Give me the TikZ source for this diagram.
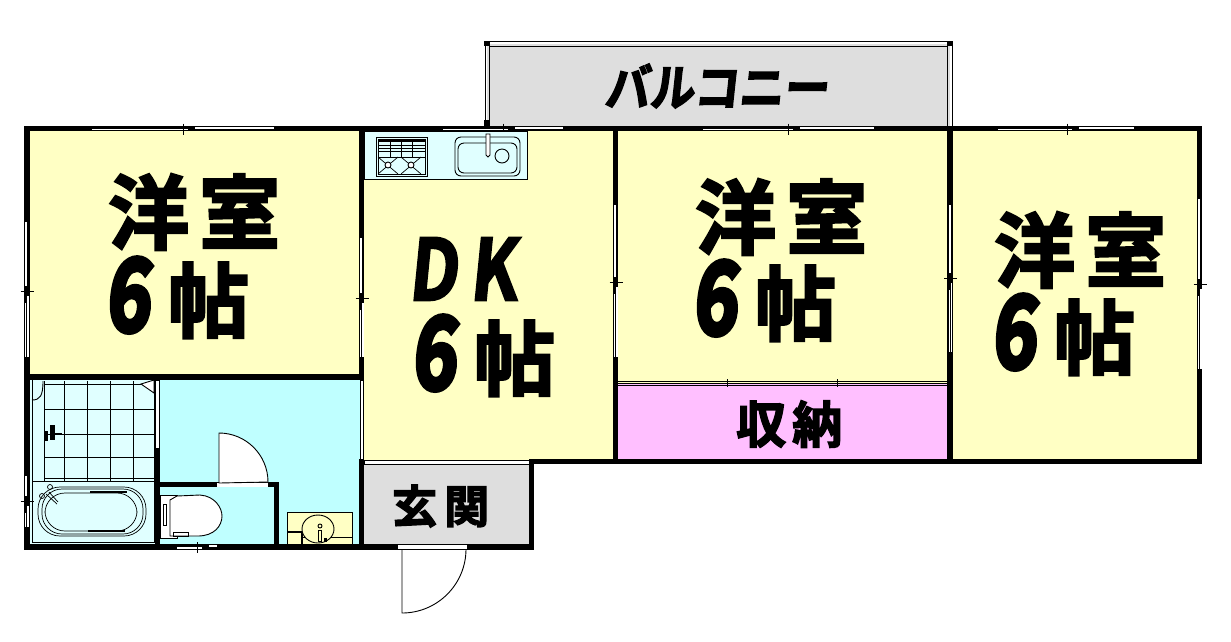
\documentclass[tikz,border=0pt]{standalone}
\usepackage{fontspec}
\newfontfamily\cjk[FakeBold=3]{Noto Sans CJK JP Bold}
\newfontfamily\cjkslant[FakeBold=3,FakeSlant=.12]{Noto Sans CJK JP Bold}
\newfontfamily\cjksix[FakeBold=5,FakeSlant=.12]{Noto Sans CJK JP Bold}
\newcommand{\bigsize}{\fontsize{81}{81}\selectfont}
\newcommand{\sixmark}{\scalebox{.76}[1]{\fontsize{100}{100}\cjksix 6}}
\definecolor{roomyellow}{HTML}{FFFFC4}
\definecolor{hallblue}{HTML}{BFFFFF}
\definecolor{wetblue}{HTML}{E0FFFF}
\definecolor{closetpink}{HTML}{FFBFFF}
\definecolor{floorgray}{HTML}{DEDEDE}
\tikzset{
	thinline/.style={draw=black,line width=0.9pt},
	opening/.style={fill=white,draw=black,line width=0.9pt},
	roomtext/.style={inner sep=0pt,anchor=west,text=black},
	fixture/.style={fill=white,draw=black,line width=0.9pt},
}
\begin{document}
\begin{tikzpicture}[x=1pt,y=-1pt]
	\useasboundingbox (0,0) rectangle (1231,641);
	% floors
	\fill[floorgray] (487,44) rectangle (950,127);
	\fill[roomyellow] (27,129) rectangle (362,377);
	\fill[roomyellow] (362,129) rectangle (616,461);
	\fill[roomyellow] (616,129) rectangle (950,383);
	\fill[roomyellow] (950,129) rectangle (1200,461);
	\fill[closetpink] (616,383) rectangle (950,461);
	\fill[floorgray] (362,461) rectangle (531,547);
	\fill[hallblue] (157,377) rectangle (362,547);
	\fill[wetblue] (27,377) rectangle (157,547);
	% balcony rails
	\draw[thinline] (485,120) -- (485,41) -- (952,41) -- (952,126);
	\draw[thinline] (489,126) -- (489,46) -- (947,46) -- (947,126);
	\fill (484,41) rectangle (490,46);
	\fill (947,41) rectangle (953,46);
	\fill (484,120) rectangle (489,127);
	% walls
	\foreach \xa/\ya/\xb/\yb in {24/126/1202/131, 24/126/30/550, 24/544/534/550, 24/374/364/380,
		359/126/364/380, 359/459/364/550, 613/126/618/464, 947/126/953/464, 1197/126/1202/464,
		529/459/1202/464, 529/459/534/550, 155/448/160/544, 160/482/279/487, 274/482/279/544}
		\fill (\xa,\ya) rectangle (\xb,\yb);
	% plain openings
	\draw[opening] (360,380) rectangle (363.5,459);
	\draw[opening] (364,460) rectangle (529,464);
	\draw[opening] (155.5,380) rectangle (159.5,448);
	\fill[white] (398,545) rectangle (467,549);
	\fill[white] (217,483) rectangle (268,487);
	% sliding windows on horizontal walls
	\foreach \xa/\xm/\xb/\yw in {92/183/274/128.5, 443/503/563/128.5, 703/788/874/128.5, 998/1067/1134/128.5, 177/197/217/547}{
		\fill[white] (\xa,\yw) rectangle (\xm+5,\yw+1.8);
		\fill[white] (\xm+12,\yw-1.8) rectangle (\xb,\yw);
		\draw[line width=0.8pt] (\xm,\yw-5) -- (\xm,\yw+6);
	}
	% sliding windows on vertical walls
	\foreach \xw/\ya/\ym/\yb in {26.5/222/291/357, 361.5/238/298/357, 615.5/205/282/357, 950/205/278/352, 1199.5/199/284/369, 26.5/476/501/527}{
		\fill[white] (\xw-1.5,\ya) rectangle (\xw+.5,\ym-5);
		\fill[white] (\xw+.5,\ym+5) rectangle (\xw+2,\yb);
		\fill[white] (\xw-1.5,\ym+12) rectangle (\xw-.2,\yb);
		\draw[line width=0.8pt] (\xw-6,\ym) -- (\xw+7,\ym);
	}
	% closet front
	\foreach \yw in {381,383,385}
		\draw[line width=0.7pt] (618,\yw) -- (947,\yw);
	\foreach \xw in {727,837}
		\draw[line width=0.8pt] (\xw,379) -- (\xw,387);
	% doors
	\draw[fixture] (219,483) -- (219,433) arc[start angle=-90,end angle=0,radius=49] -- cycle;
	\draw[thinline] (402,549) -- (402,613) arc[start angle=90,end angle=0,radius=64];
	% kitchen
	\draw[thinline,fill=wetblue] (364,131) rectangle (527,179);
	\draw[thinline] (376,137) rectangle (427,176);
	\draw[thinline] (378,139) rectangle (425,174);
	\draw[line width=1.8pt] (378,141) -- (425,141);
	\foreach \yy in {145,148,151,157}
		\draw[line width=0.7pt] (378,\yy) -- (425,\yy);
	\foreach \xx in {390,401,412}
		\draw[line width=0.7pt] (\xx,141) -- (\xx,157);
	\foreach \xx in {388,411}{
		\draw[line width=0.7pt] (\xx-10,157) -- (\xx+10,174) (\xx+10,157) -- (\xx-10,174);
		\draw[fixture] (\xx,165) circle[radius=3];
	}
	\draw[thinline,rounded corners=6pt] (455,137) rectangle (520,176);
	\draw[thinline,rounded corners=6pt] (458,143) rectangle (517,173);
	\draw[thinline] (502,156) circle[radius=7];
	\draw[fixture] (486,134) -- (486,155) -- (488,157) -- (490,155) -- (490,134) -- cycle;
	% bath
	\foreach \yy in {384,409,434,457,478}
		\draw[thinline] (44,\yy) -- (154,\yy);
	\foreach \xx in {44,64,87,110,133}
		\draw[thinline] (\xx,381) -- (\xx,481);
	\draw[fixture] (141,384) -- (154,380) -- (154,393) -- cycle;
	\draw[thinline] (32,400) .. controls (40,400) and (43,396) .. (43,381);
	\draw[thinline] (32,380) -- (32,542) -- (154,542) -- (154,380);
	\draw[thinline] (32,481) -- (154,481);
	\draw[line width=3pt] (46,431) -- (46,441);
	\fill (50,425) rectangle (55,440);
	\draw[thinline] (55,433) -- (62,433);
	\draw[line width=0.7pt,rounded corners=22pt] (38,487) rectangle (146,536);
	\draw[line width=0.7pt,rounded corners=20pt] (42,489) rectangle (143,534);
	\draw[line width=0.7pt,rounded corners=20pt] (45,493) rectangle (137,531);
	\draw[line width=1.6pt] (90,492) -- (127,492);
	\draw[line width=1.6pt] (88,531) -- (125,531);
	\draw[line width=0.7pt] (46,494) -- (57,504) (49,492) -- (58,502);
	\draw[line width=0.7pt] (50,487) circle[radius=2.5] (42,496) circle[radius=2.5];
	% toilet
	\draw[fixture] (160,495) rectangle (177,538);
	\draw[fixture] (163,504) rectangle (166,525);
	\draw[fixture] (170,500) -- (177,496) -- (200,495) .. controls (215,496) and (222,508) .. (222,516) .. controls (222,526) and (214,536) .. (198,536) -- (170,536) -- cycle;
	\draw[line width=0.7pt] (173,532) rectangle (188,536);
	% washbasin
	\draw[thinline,fill=roomyellow] (287,512) rectangle (352,544);
	\draw[thinline] (302,537) -- (352,537);
	\draw[line width=1.4pt] (287,532) -- (302,532) -- (302,544);
	\draw[thinline,fill=roomyellow] (318,529) ellipse[x radius=16,y radius=14];
	\draw[thinline] (320,526) circle[radius=2];
	\draw[thinline] (318,530) rectangle (321,541);
	\fill (324,538) rectangle (327,542);
	% labels
	\foreach \n/\xt/\yt/\xs/\ys in {a/108/212/105/298, b/695/217/692/301, c/994/250/991/335}{
		\node[roomtext] (\n1) at (\xt,\yt) {\bigsize\cjk 洋\hspace{10pt}室};
		\node[roomtext] (\n2) at (\xs,\ys) {\sixmark\hspace{18pt}\bigsize\cjk 帖};
	}
	\node[roomtext] (d1) at (408,269) {\scalebox{.82}[1]{\fontsize{84}{84}\cjkslant D}\hspace{12pt}\scalebox{.82}[1]{\fontsize{84}{84}\cjkslant K}};
	\node[roomtext] (d2) at (411,356) {\sixmark\hspace{18pt}\bigsize\cjk 帖};
	\node[roomtext] (closet) at (736,424) {\fontsize{50}{50}\selectfont\cjk 収\hspace{6pt}納};
	\node[roomtext] (entry) at (392,506) {\fontsize{45}{45}\selectfont\cjk 玄\hspace{7pt}関};
	\node[roomtext] (balcony) at (604,86) {\scalebox{.9}[1]{\fontsize{50}{50}\selectfont\cjkslant バルコニー}};
\end{tikzpicture}
\end{document}
